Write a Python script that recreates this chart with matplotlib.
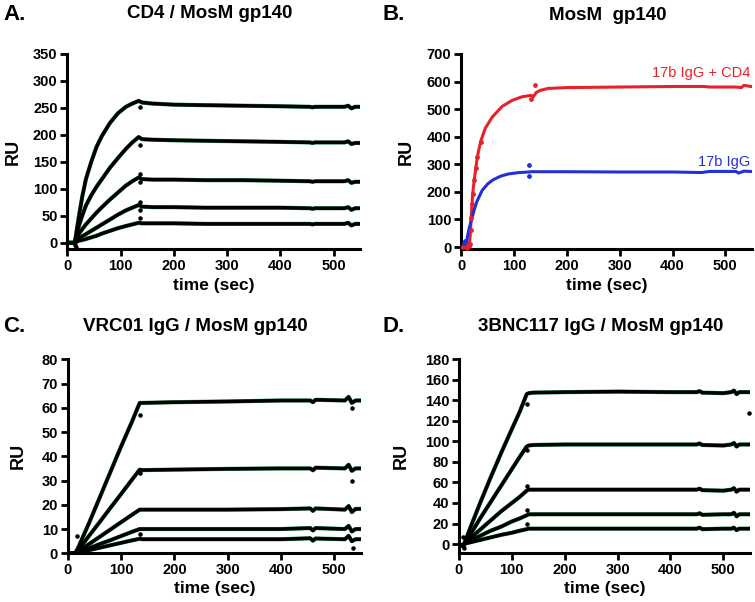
import matplotlib.pyplot as plt

plt.rcParams['font.family'] = ['Liberation Sans', 'DejaVu Sans']
plt.rcParams['font.weight'] = 'bold'

# ---- Panel A: CD4 / MosM gp140 ----
a_time = [0, 14, 18, 22, 28, 35, 45, 55, 65, 80, 95, 110, 122, 134,
          140, 160, 200, 260, 330, 400, 455, 460, 465, 520, 527, 533, 540, 548]
a_curves = [
    [0, 0, 25, 50, 85, 118, 150, 178, 198, 222, 240, 252, 258, 263,
     260, 258, 256, 255, 254, 253, 252, 251, 252, 252, 254, 249, 252, 252],
    [0, 0, 15, 32, 50, 69, 88, 104, 118, 139, 157, 174, 186, 196,
     192, 191, 190, 189, 188, 187, 186, 185, 186, 186, 188, 183, 185, 185],
    [0, 0, 8, 17, 25, 34, 45, 56, 66, 80, 93, 106, 114, 121,
     118, 117, 117, 116, 116, 115, 114, 113, 114, 114, 116, 111, 113, 113],
    [0, 0, 4, 8, 12, 16, 22, 28, 34, 43, 52, 60, 65, 70,
     67, 66, 66, 65, 65, 65, 64, 63, 64, 64, 66, 61, 64, 64],
    [0, 0, 2, 4, 5, 7, 10, 13, 17, 22, 27, 31, 34, 37,
     36, 36, 36, 35, 35, 35, 35, 34, 35, 35, 37, 32, 35, 35],
]
a_stray_t = [136, 136, 136, 136, 136, 136, 136, 14, 16]
a_stray_v = [252, 182, 127, 112, 75, 60, 45, -5, -8]

# ---- Panel B: MosM gp140 ----
b_red_time = [0, 10, 16, 18, 19, 21, 22, 25, 28, 31, 37, 46, 59, 78, 97, 116, 133,
              137, 142, 150, 165, 200, 300, 400, 460, 470, 520, 530, 535, 548]
b_red = [0, 0, 5, 60, 104, 156, 192, 243, 286, 328, 382, 431, 471, 510, 532, 545, 550,
         545, 560, 568, 575, 578, 580, 582, 582, 580, 580, 578, 586, 582]
b_blue_time = [0, 8, 10, 12, 15, 19, 25, 30, 40, 50, 60, 75, 90, 110, 128,
               132, 140, 200, 300, 400, 455, 470, 520, 525, 535, 548]
b_blue = [0, 0, 10, 35, 65, 92, 135, 165, 205, 228, 243, 257, 265, 270, 272,
          273, 273, 273, 272, 272, 270, 274, 274, 268, 275, 274]
b_red_stray_t = [140, 133, 3, 7, 12, 15, 17]
b_red_stray_v = [588, 538, 0, 2, -3, 8, 12]
b_blue_stray_t = [128, 128, 6, 8]
b_blue_stray_v = [298, 258, 15, 22]

# ---- Panel C: VRC01 IgG / MosM gp140 ----
c_time = [0, 14, 20, 40, 60, 80, 100, 120, 135, 140, 200, 300, 400,
          455, 460, 465, 520, 527, 533, 540, 548]
c_curves = [
    [0, 0, 2.5, 12.5, 23, 33.5, 44, 54, 62, 62, 62.3, 62.6, 63, 63, 62.3, 63.3, 63, 64.5, 62, 63, 63],
    [0, 0, 1.4, 7.2, 12.9, 18.7, 24.4, 30.2, 34.5, 34.3, 34.5, 34.8, 35, 35, 34.2, 35.3, 35, 36.5, 34, 35, 35],
    [0, 0, 0.8, 3.8, 6.8, 9.8, 12.8, 15.8, 18, 18, 18, 18, 18.2, 18.5, 17.5, 18.5, 18, 19.5, 17, 18.3, 18.3],
    [0, 0, 0.4, 2.1, 3.8, 5.4, 7.1, 8.8, 10, 10, 10, 10, 10, 10.4, 9.4, 10.4, 10, 11.3, 9, 10, 10],
    [0, 0, 0.3, 1.3, 2.3, 3.3, 4.3, 5.3, 6, 5.8, 5.8, 5.8, 5.8, 6.2, 5.2, 6.1, 5.8, 7.2, 5, 5.8, 5.8],
]
c_stray_t = [136, 136, 136, 18, 533, 533, 535]
c_stray_v = [57, 33, 8, 7, 60, 30, 2]

# ---- Panel D: 3BNC117 IgG / MosM gp140 ----
d_time = [0, 8, 12, 20, 40, 60, 80, 100, 115, 128, 132, 140, 200, 300, 400,
          450, 455, 460, 500, 515, 520, 525, 530, 548]
d_curves = [
    [0, -2, 3, 14, 40, 65, 89, 112, 129, 146, 147, 147.5, 148, 148.5, 148,
     148, 149, 147.5, 147, 148, 149.5, 146, 148, 148],
    [0, -2, 2.5, 8, 25, 41, 57, 73, 85, 95, 96, 96.5, 97, 97, 97,
     97, 98, 96.5, 96, 97, 98.5, 95, 97, 97],
    [0, -2, 1.5, 5, 14, 23, 32, 40, 46, 52, 53, 53, 53, 53, 53,
     53, 54, 52.5, 52, 53, 54.5, 51, 53, 53],
    [0, -2, 1, 3, 8, 13, 17, 22, 25, 28, 29, 29, 29, 29, 29,
     29, 30, 28.5, 29, 29, 30.5, 27, 29, 29],
    [0, -2, 0.5, 1.5, 4, 6.5, 9, 11, 13, 14.5, 15, 15, 15, 15, 15,
     15, 16, 14.5, 15, 15, 16, 13.5, 15, 15],
]
d_stray_t = [128, 128, 128, 128, 128, 548, 10, 8]
d_stray_v = [136, 92, 57, 33, 20, 128, -4, 7]

GREEN = '#2f9a62'
RED = '#e5222a'
BLUE = '#2230d8'


def style_axes(ax, yticks, ylim, ylabel_x):
    ax.set_xlim(0, 550)
    ax.set_ylim(*ylim)
    ax.set_xticks([0, 100, 200, 300, 400, 500])
    ax.set_yticks(yticks)
    for side in ['top', 'right']:
        ax.spines[side].set_visible(False)
    for side in ['left', 'bottom']:
        ax.spines[side].set_linewidth(2.2)
    ax.tick_params(width=2, length=5, labelsize=10.5, pad=2)
    for lab in ax.get_xticklabels() + ax.get_yticklabels():
        lab.set_fontweight('bold')
    ax.set_ylabel('RU', fontsize=13, fontweight='bold')
    ax.set_xlabel('time (sec)', fontsize=12.5, fontweight='bold')
    ax.yaxis.set_label_coords(ylabel_x, 0.5)
    ax.xaxis.set_label_coords(0.5, -0.145)


def draw_kinetics(ax, t, curves, st, sv):
    for vals in curves:
        ax.plot(t, vals, color=GREEN, lw=3.0, zorder=2)
        ax.plot(t, vals, color='black', lw=2.5, zorder=3)
    ax.scatter(st, sv, s=5, color='black', zorder=4, clip_on=False)


fig = plt.figure(figsize=(7.55, 6.02), dpi=100)

ax_a = fig.add_axes([0.0891, 0.586, 0.3883, 0.3244])
ax_b = fig.add_axes([0.6106, 0.586, 0.3852, 0.3244])
ax_c = fig.add_axes([0.0897, 0.0809, 0.3883, 0.3223])
ax_d = fig.add_axes([0.6079, 0.0809, 0.3852, 0.3223])

draw_kinetics(ax_a, a_time, a_curves, a_stray_t, a_stray_v)
style_axes(ax_a, range(0, 351, 50), (-12, 350), -0.155)

ax_b.plot(b_red_time, b_red, color=RED, lw=2.2, zorder=3)
ax_b.plot(b_blue_time, b_blue, color=BLUE, lw=2.2, zorder=3)
ax_b.scatter(b_red_time[2:11], b_red[2:11], s=6, color=RED, zorder=4)
ax_b.scatter(b_red_stray_t, b_red_stray_v, s=6, color=RED, zorder=4, clip_on=False)
ax_b.scatter(b_blue_stray_t, b_blue_stray_v, s=6, color=BLUE, zorder=4, clip_on=False)
ax_b.text(547, 631, '17b IgG + CD4', color=RED, fontsize=10.5, fontweight='normal',
          ha='right', va='center')
ax_b.text(547, 308, '17b IgG', color=BLUE, fontsize=10.5, fontweight='normal',
          ha='right', va='center')
style_axes(ax_b, range(0, 701, 100), (-8, 700), -0.158)

draw_kinetics(ax_c, c_time, c_curves, c_stray_t, c_stray_v)
style_axes(ax_c, range(0, 81, 10), (0, 80), -0.139)

draw_kinetics(ax_d, d_time, d_curves, d_stray_t, d_stray_v)
style_axes(ax_d, range(0, 181, 20), (-9, 180), -0.169)

# panel letters and titles (pixel positions from the reference)
W, H = 755.0, 602.0
panel_text = [
    ('A.', 3, 14, 'CD4 / MosM gp140', 210, 14),
    ('B.', 382, 14, 'MosM  gp140', 608, 16),
    ('C.', 3, 326, 'VRC01 IgG / MosM gp140', 195, 327),
    ('D.', 382, 326, '3BNC117 IgG / MosM gp140', 601, 327),
]
for letter, lx, ly, title, tx, ty in panel_text:
    fig.text(lx / W, 1 - ly / H, letter, fontsize=16, fontweight='bold',
             ha='left', va='center')
    fig.text(tx / W, 1 - ty / H, title, fontsize=13.5, fontweight='bold',
             ha='center', va='center')

fig.savefig('out.png', dpi=100)
